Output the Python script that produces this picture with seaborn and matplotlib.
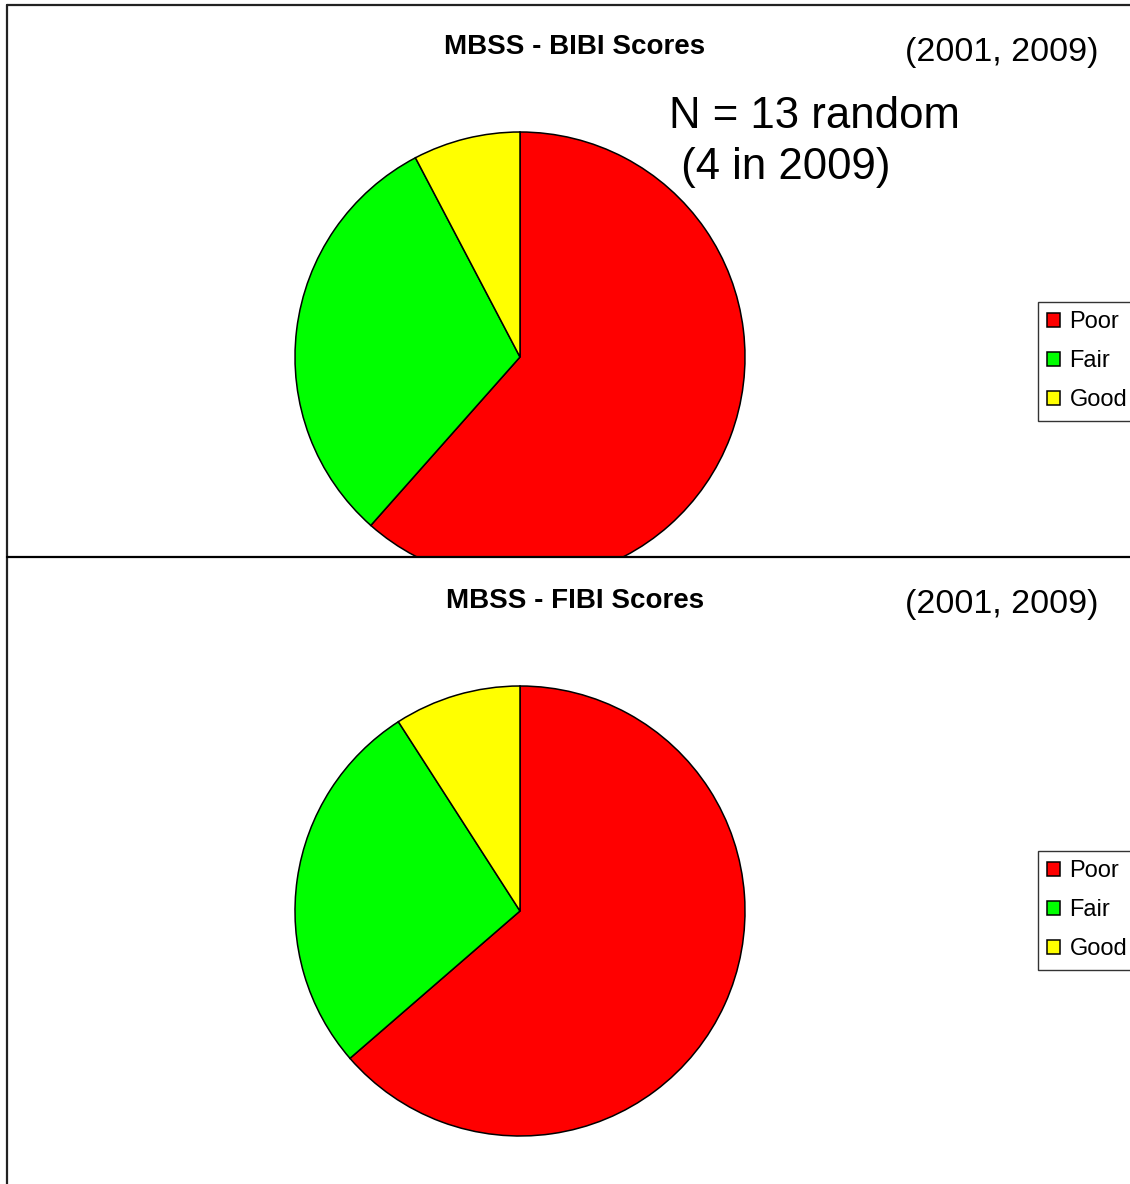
import matplotlib
matplotlib.use("Agg")
import matplotlib.pyplot as plt
from matplotlib.lines import Line2D
import seaborn as sns

# ---- data ----
categories = ["Poor", "Fair", "Good"]
bibi_counts = [8, 4, 1]
fibi_counts = [7, 3, 1]
colors = ["#FF0000", "#00FF00", "#FFFF00"]
titles = ["MBSS - BIBI Scores", "MBSS - FIBI Scores"]
years_label = "(2001, 2009)"
note_lines = ["N = 13 random", " (4 in 2009)"]

sns.set_theme(style="white")
plt.rcParams["font.family"] = ["Liberation Sans", "DejaVu Sans"]
plt.rcParams["text.color"] = "black"
palette = sns.color_palette(colors)

W, H = 1130, 1184
fig = plt.figure(figsize=(W / 100, H / 100), dpi=100)
fig.patch.set_facecolor("white")


def fx(x):
    return x / W


def fy(y):
    return 1 - y / H


def draw_panel(counts, cx, cy, r, clip_bottom, title, title_y, years_y, legend_top):
    m = 5  # pixel margin so the outline is not cut
    left = cx - r - m
    right = cx + r + m
    top = cy - r - m
    bottom = min(cy + r + m, clip_bottom)
    ax = fig.add_axes([fx(left), fy(bottom), (right - left) / W, (bottom - top) / H])
    wedges, _ = ax.pie(counts, colors=palette, startangle=90, counterclock=False,
                       wedgeprops=dict(edgecolor="black", linewidth=1.1))
    ax.set_aspect("auto")
    ax.set_xlim((left - cx) / r, (right - cx) / r)
    ax.set_ylim(-(bottom - cy) / r, (cy - top) / r)
    ax.axis("off")
    for w in wedges:
        w.set_clip_on(True)
        w.set_clip_path(ax.patch)
    fig.text(fx(575), fy(title_y), title, ha="center", va="center",
             fontsize=20, fontweight="bold", color="black")
    fig.text(fx(1002), fy(years_y), years_label, ha="center", va="center",
             fontsize=24.5, color="black")
    leg = fig.legend(wedges, categories, loc="upper left",
                     bbox_to_anchor=(fx(1038), fy(legend_top)),
                     bbox_transform=fig.transFigure,
                     fontsize=17, frameon=True, fancybox=False,
                     edgecolor="#333333", framealpha=1,
                     handlelength=0.55, handleheight=0.55,
                     handletextpad=0.38, labelspacing=0.72,
                     borderpad=0.4, borderaxespad=0)
    leg.get_frame().set_linewidth(1.0)
    for t in leg.get_texts():
        t.set_color("black")
    return ax


draw_panel(bibi_counts, 520, 357, 225, 557, titles[0], 47, 53, 302)
draw_panel(fibi_counts, 520, 911, 225, 1184, titles[1], 601, 605, 851)

fig.text(fx(669), fy(116), note_lines[0], ha="left", va="center", fontsize=31.5,
         color="black")
fig.text(fx(669), fy(168), note_lines[1], ha="left", va="center", fontsize=31.5,
         color="black")

# panel borders
lc = "#222222"
fig.add_artist(Line2D([fx(7), fx(1135)], [fy(5), fy(5)], color=lc, lw=1.6,
                      transform=fig.transFigure))
fig.add_artist(Line2D([fx(7), fx(7)], [fy(5), fy(1190)], color=lc, lw=1.6,
                      transform=fig.transFigure))
fig.add_artist(Line2D([fx(7), fx(1135)], [fy(557), fy(557)], color="black", lw=1.6,
                      transform=fig.transFigure))

fig.savefig("out.png", dpi=100, facecolor="white")
